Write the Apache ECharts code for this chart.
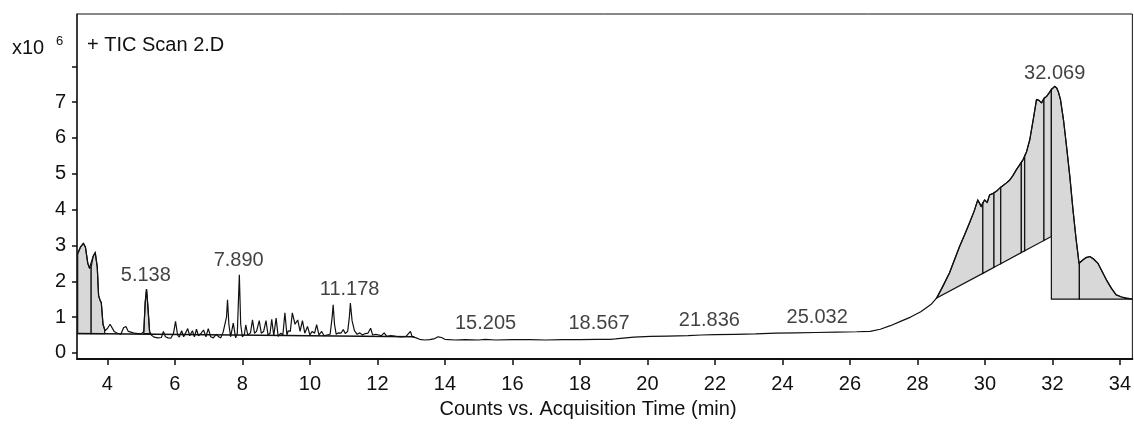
<!DOCTYPE html>
<html>
<head>
<meta charset="utf-8">
<script src="https://cdn.jsdelivr.net/npm/echarts@6/dist/echarts.min.js"></script>
<style>
html, body { margin: 0; padding: 0; background: #fff; }
#main { width: 1134px; height: 428px; }
</style>
</head>
<body>
<div id="main"></div>
<script>
// TIC trace, time (min) / counts (x10^6)
let rt = [
  3.12, 3.2, 3.29, 3.35, 3.42, 3.47, 3.52, 3.58, 3.64, 3.7, 3.74, 3.78, 3.82, 3.87, 3.93, 4.0, 4.08, 4.13, 4.2, 4.3,
  4.4, 4.48, 4.55, 4.62, 4.7, 4.8, 4.9, 5.0, 5.08, 5.12, 5.16, 5.2, 5.25, 5.3, 5.38, 5.5, 5.6, 5.66, 5.72, 5.8,
  5.88, 5.96, 6.02, 6.08, 6.13, 6.2, 6.26, 6.33, 6.38, 6.44, 6.52, 6.58, 6.64, 6.7, 6.78, 6.85, 6.92, 6.99, 7.06, 7.14,
  7.22, 7.3, 7.36, 7.43, 7.48, 7.53, 7.56, 7.6, 7.65, 7.73, 7.8, 7.85, 7.91, 7.95, 8.0, 8.06, 8.1, 8.16, 8.24, 8.3,
  8.36, 8.42, 8.5, 8.56, 8.63, 8.7, 8.76, 8.82, 8.87, 8.93, 9.0, 9.06, 9.14, 9.2, 9.26, 9.32, 9.36, 9.42, 9.48, 9.56,
  9.64, 9.71, 9.78, 9.85, 9.93, 10.0, 10.07, 10.14, 10.2, 10.27, 10.35, 10.42, 10.5, 10.6, 10.66, 10.69, 10.73, 10.78, 10.85, 10.92,
  10.99, 11.05, 11.12, 11.17, 11.2, 11.25, 11.32, 11.4, 11.48, 11.56, 11.64, 11.72, 11.8, 11.86, 11.95, 12.05, 12.12, 12.2, 12.28, 12.4,
  12.55, 12.7, 12.85, 12.98, 13.03, 13.15, 13.25, 13.4, 13.55, 13.7, 13.8, 13.9, 14.0, 14.3, 14.6, 15.0, 15.2, 15.5, 16.0, 16.5,
  17.0, 17.5, 18.0, 18.5, 18.9, 19.05, 19.1, 19.6, 20.1, 20.6, 21.2, 21.6, 22.0, 22.6, 23.2, 23.8, 24.4, 25.0, 25.6, 26.2,
  26.6, 26.9, 27.2, 27.5, 27.8, 28.1, 28.4, 28.57, 28.75, 28.95, 29.1, 29.25, 29.4, 29.54, 29.68, 29.79, 29.89, 29.99, 30.07, 30.14,
  30.24, 30.34, 30.44, 30.55, 30.63, 30.73, 30.83, 30.93, 31.03, 31.13, 31.23, 31.33, 31.43, 31.53, 31.6, 31.68, 31.75, 31.83, 31.9, 31.97,
  32.07, 32.13, 32.18, 32.24, 32.33, 32.42, 32.52, 32.61, 32.7, 32.79, 32.85, 32.91, 33.0, 33.11, 33.22, 33.35, 33.47, 33.6, 33.75, 33.89,
  34.05, 34.19, 34.37
];
let tic = [
  2.77, 2.95, 3.06, 2.95, 2.5, 2.37, 2.4, 2.7, 2.8, 2.4, 1.6, 1.48, 1.4, 0.8, 0.62, 0.68, 0.8, 0.78, 0.6, 0.55,
  0.52, 0.7, 0.74, 0.6, 0.58, 0.55, 0.54, 0.53, 0.6, 1.4, 1.78, 1.3, 0.6, 0.5, 0.44, 0.42, 0.43, 0.6, 0.45, 0.42,
  0.41, 0.55, 0.88, 0.5, 0.44, 0.62, 0.45, 0.58, 0.68, 0.48, 0.62, 0.45, 0.66, 0.48, 0.55, 0.64, 0.45, 0.68, 0.45, 0.42,
  0.52, 0.45, 0.42, 0.58, 0.6, 1.0, 1.48, 0.8, 0.45, 0.83, 0.42, 0.55, 2.18, 0.8, 0.45, 0.52, 0.78, 0.5, 0.56, 0.92,
  0.55, 0.6, 0.9, 0.55, 0.6, 0.9, 0.5, 0.55, 0.94, 0.48, 0.97, 0.46, 0.55, 0.5, 1.12, 0.5, 0.62, 0.6, 1.12, 0.8,
  0.92, 0.6, 0.9, 0.55, 0.74, 0.5, 0.6, 0.55, 0.79, 0.5, 0.6, 0.48, 0.5, 0.52, 1.0, 1.34, 0.8, 0.52, 0.56, 0.55,
  0.65, 0.54, 0.6, 1.0, 1.39, 0.9, 0.62, 0.52, 0.56, 0.5, 0.54, 0.55, 0.69, 0.5, 0.52, 0.5, 0.48, 0.56, 0.46, 0.48,
  0.46, 0.45, 0.46, 0.6, 0.45, 0.42, 0.38, 0.36, 0.37, 0.4, 0.45, 0.43, 0.38, 0.36, 0.37, 0.36, 0.38, 0.36, 0.37, 0.37,
  0.36, 0.37, 0.37, 0.38, 0.38, 0.39, 0.43, 0.44, 0.46, 0.47, 0.48, 0.5, 0.51, 0.52, 0.53, 0.55, 0.56, 0.57, 0.58, 0.59,
  0.6, 0.66, 0.76, 0.88, 1.0, 1.15, 1.35, 1.53, 1.85, 2.23, 2.6, 2.97, 3.3, 3.62, 3.95, 4.27, 4.09, 4.27, 4.2, 4.41,
  4.45, 4.51, 4.6, 4.68, 4.74, 4.82, 4.95, 5.11, 5.25, 5.39, 5.6, 5.95, 6.5, 7.07, 7.05, 6.98, 7.1, 7.16, 7.25, 7.35,
  7.44, 7.39, 7.28, 7.07, 6.5, 5.76, 4.9, 4.0, 3.2, 2.5, 2.55, 2.6, 2.66, 2.69, 2.62, 2.5, 2.28, 2.04, 1.8, 1.62,
  1.56, 1.53, 1.5
];

// integrated peak areas: start/end time and baseline level at each end
let areaFrom = [3.12, 3.52, 5.08, 28.57, 29.94, 30.27, 30.47, 31.08, 31.18, 31.75, 31.97, 32.8];
let areaTo   = [3.52, 3.92, 5.28, 29.94, 30.27, 30.47, 31.08, 31.18, 31.75, 31.97, 32.8, 34.37];
let baseFrom = [0.54, 0.54, 0.54, 1.53, 2.22, 2.39, 2.49, 2.80, 2.85, 3.14, 1.5, 1.5];
let baseTo   = [0.54, 0.54, 0.54, 2.22, 2.39, 2.49, 2.80, 2.85, 3.14, 3.25, 1.5, 1.5];

// long integration baseline under the early peaks
let baseRt = [3.12, 13.1];
let baseTic = [0.54, 0.45];

// labelled peaks
let peakRt = [5.138, 7.890, 11.178, 15.205, 18.567, 21.836, 25.032, 32.069];
let peakTop = [1.78, 2.18, 1.39, 0.42, 0.42, 0.51, 0.6, 7.41];

let xTicks = [4, 6, 8, 10, 12, 14, 16, 18, 20, 22, 24, 26, 28, 30, 32, 34];
let yTicks = [0, 1, 2, 3, 4, 5, 6, 7, 8];
let yLabels = [0, 1, 2, 3, 4, 5, 6, 7];

let myChart = echarts.init(document.getElementById('main'));
let txt = '#111';
let font = 'Liberation Sans, Arial, sans-serif';

function traceAt(t) {
  for (let i = 1; i < rt.length; i++) {
    if (rt[i] >= t) {
      let f = (t - rt[i - 1]) / (rt[i] - rt[i - 1]);
      return tic[i - 1] + f * (tic[i] - tic[i - 1]);
    }
  }
  return tic[tic.length - 1];
}

let option = {
  animation: false,
  title: {
    text: '+ TIC Scan 2.D',
    left: 82, top: 30,
    textStyle: { fontSize: 20, fontWeight: 'normal', color: txt, fontFamily: font }
  },
  graphic: [
    { type: 'text', left: 12, top: 38, style: { text: 'x10', fontSize: 20, fill: txt, fontFamily: font } },
    { type: 'text', left: 56, top: 35, style: { text: '6', fontSize: 13, fill: txt, fontFamily: font } },
    {
      type: 'text', x: 588, y: 409,
      style: { text: 'Counts vs. Acquisition Time (min)', fontSize: 20, fill: txt, fontFamily: font,
               textAlign: 'center', textVerticalAlign: 'middle' }
    }
  ],
  grid: {
    left: 77, right: 1, top: 14, bottom: 69,
    show: true, borderColor: '#111', borderWidth: 1, backgroundColor: 'transparent'
  },
  xAxis: {
    type: 'value', min: 3.1, max: 34.37,
    axisLine: { onZero: false, lineStyle: { color: '#111', width: 2 } },
    axisTick: { customValues: xTicks, length: 6, lineStyle: { color: '#111', width: 1.5 } },
    axisLabel: { customValues: xTicks, margin: 15, fontSize: 20, color: txt, fontFamily: font },
    splitLine: { show: false }
  },
  yAxis: {
    type: 'value', min: -0.17, max: 9.46,
    axisLine: { show: true, onZero: false, lineStyle: { color: '#222', width: 1.5 } },
    axisTick: { show: true, customValues: yTicks, length: 5, lineStyle: { color: '#111', width: 1.5 } },
    axisLabel: { customValues: yLabels, margin: 11, fontSize: 20, color: txt, fontFamily: font },
    splitLine: { show: false }
  },
  series: [
    {
      type: 'custom',
      z: 1,
      silent: true,
      data: areaFrom.map((v, i) => [v, baseFrom[i]]),
      renderItem: function (params, api) {
        let i = params.dataIndex;
        let x0 = areaFrom[i], x1 = areaTo[i];
        let pts = [api.coord([x0, baseFrom[i]]), api.coord([x0, traceAt(x0)])];
        rt.forEach((t, k) => {
          if (t > x0 && t < x1) pts.push(api.coord([t, tic[k]]));
        });
        pts.push(api.coord([x1, traceAt(x1)]), api.coord([x1, baseTo[i]]));
        return {
          type: 'polygon',
          shape: { points: pts },
          style: { fill: '#d8d8d8', stroke: '#111', lineWidth: 1.2 }
        };
      }
    },
    {
      type: 'line',
      z: 2,
      silent: true,
      showSymbol: false,
      data: baseRt.map((t, i) => [t, baseTic[i]]),
      lineStyle: { color: '#111', width: 1.4 }
    },
    {
      type: 'line',
      z: 3,
      silent: true,
      showSymbol: false,
      sampling: null,
      data: rt.map((t, i) => [t, tic[i]]),
      lineStyle: { color: '#111', width: 1.2 }
    },
    {
      type: 'scatter',
      z: 4,
      silent: true,
      symbolSize: 0,
      data: peakRt.map((t, i) => [t, peakTop[i]]),
      label: {
        show: true, position: 'top', distance: 4,
        fontSize: 20, color: txt, fontFamily: font,
        formatter: p => p.value[0].toFixed(3)
      }
    }
  ]
};

myChart.setOption(option);
</script>
</body>
</html>
